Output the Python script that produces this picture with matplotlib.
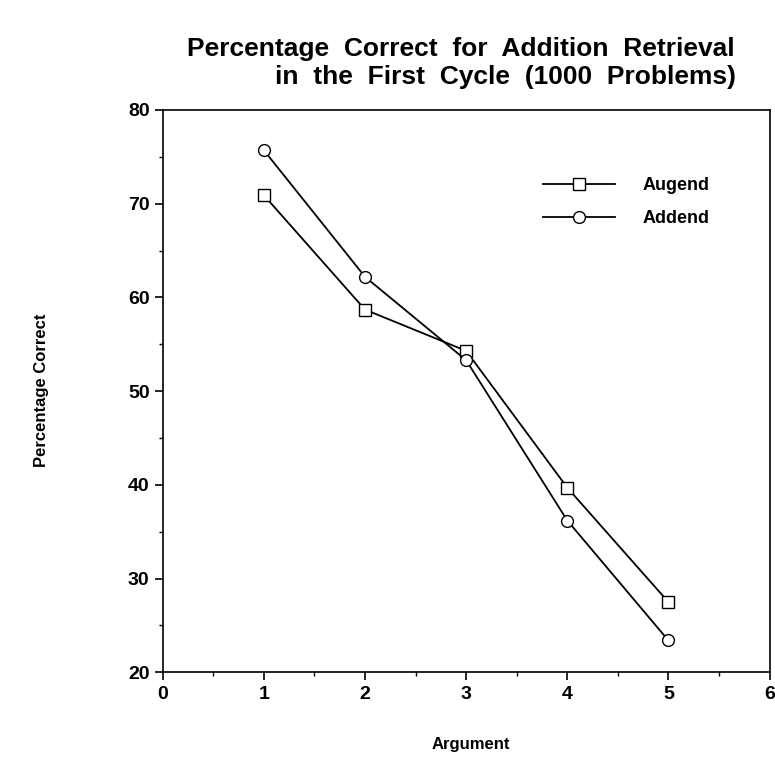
import matplotlib
matplotlib.use("Agg")
import matplotlib.pyplot as plt
from matplotlib.ticker import MultipleLocator

# data
argument = [1, 2, 3, 4, 5]
augend = [70.9, 58.7, 54.3, 39.7, 27.5]
addend = [75.7, 62.2, 53.3, 36.2, 23.4]

plt.rcParams['font.family'] = ['Liberation Sans', 'DejaVu Sans']
plt.rcParams['font.weight'] = 'bold'

fig = plt.figure(figsize=(7.75, 7.8), dpi=100)
ax = fig.add_axes([0.21, 0.138, 0.783, 0.721])

ax.plot(argument, augend, marker='s', color='black', markerfacecolor='white',
        markersize=8.5, linewidth=1.3, label='Augend')
ax.plot(argument, addend, marker='o', color='black', markerfacecolor='white',
        markersize=8.5, linewidth=1.3, label='Addend')

ax.set_xlim(0, 6)
ax.set_ylim(20, 80)
ax.xaxis.set_major_locator(MultipleLocator(1))
ax.xaxis.set_minor_locator(MultipleLocator(0.5))
ax.yaxis.set_major_locator(MultipleLocator(10))
ax.yaxis.set_minor_locator(MultipleLocator(5))
ax.tick_params(which='major', length=6, width=1.2, labelsize=14)
ax.tick_params(which='minor', length=3, width=1)
for s in ax.spines.values():
    s.set_linewidth(1.2)

# title: two lines, wide word spacing like the original
fig.text(0.594, 0.937, 'Percentage  Correct  for  Addition  Retrieval',
         ha='center', va='center', fontsize=19, fontweight='bold')
fig.text(0.652, 0.901, 'in  the  First  Cycle  (1000  Problems)',
         ha='center', va='center', fontsize=19, fontweight='bold')
fig.text(0.054, 0.5, 'Percentage Correct', rotation=90, ha='center', va='center',
         fontsize=12, fontweight='bold')
fig.text(0.607, 0.045, 'Argument', ha='center', va='center', fontsize=12, fontweight='bold')

ax.legend(loc='upper left', bbox_to_anchor=(0.6, 0.91), frameon=False,
          handlelength=4.0, fontsize=13, handletextpad=1.5, labelspacing=0.9)

fig.savefig('out.png', dpi=100)
